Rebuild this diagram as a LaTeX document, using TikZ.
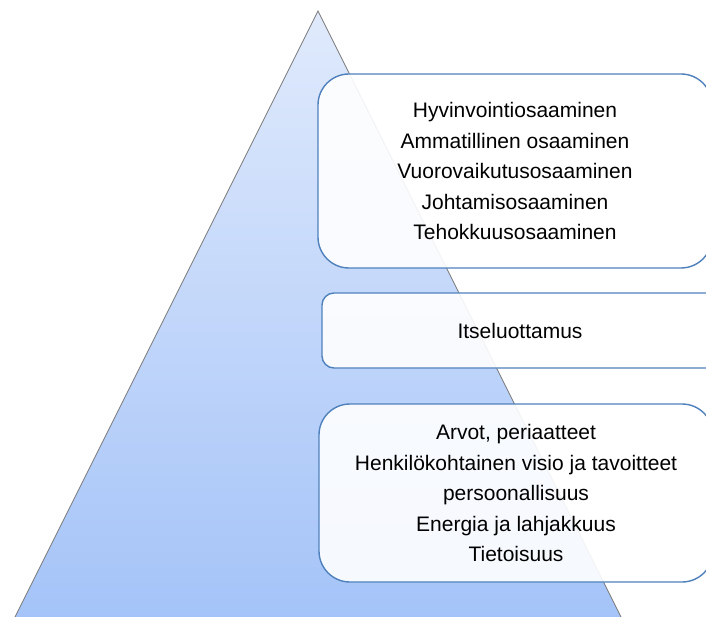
\documentclass[tikz,border=0pt]{standalone}
\usepackage{fontspec}
\setmainfont{Liberation Sans}
\definecolor{triTop}{RGB}{224,234,252}
\definecolor{triBot}{RGB}{164,195,248}
\definecolor{boxLine}{RGB}{79,129,189}
\definecolor{triLine}{RGB}{120,120,120}
\begin{document}
\begin{tikzpicture}[x=1pt,y=-1pt,
  box/.style={draw=boxLine, line width=1.4pt, fill=white, fill opacity=0.9, text opacity=1,
    rounded corners=#1, inner sep=0pt, align=center, text=black,
    font=\fontsize{21}{30.5}\selectfont},
  box/.default=31pt]
\useasboundingbox (0,0) rectangle (706,617);
\clip (0,0) rectangle (706,617);
\fill[white] (0,0) rectangle (706,617);
\coordinate (apex) at (318,11);
\coordinate (bl) at (13,621);
\coordinate (br) at (623,621);
\shade[top color=triTop, bottom color=triBot] (apex) -- (br) -- (bl) -- cycle;
\draw[triLine, line width=0.8pt] (bl) -- (apex) -- (br);
\node[box, minimum width=394pt, minimum height=194pt] (b1) at (515,171)
  {Hyvinvointiosaaminen\\Ammatillinen osaaminen\\Vuorovaikutusosaaminen\\Johtamisosaaminen\\Tehokkuusosaaminen};
\node[box=12pt, minimum width=396pt, minimum height=75pt] (b2) at (520,330.5)
  {Itseluottamus};
\node[box, minimum width=394pt, minimum height=178pt] (b3) at (516,493)
  {Arvot, periaatteet\\Henkilökohtainen visio ja tavoitteet\\persoonallisuus\\Energia ja lahjakkuus\\Tietoisuus};
\end{tikzpicture}
\end{document}
